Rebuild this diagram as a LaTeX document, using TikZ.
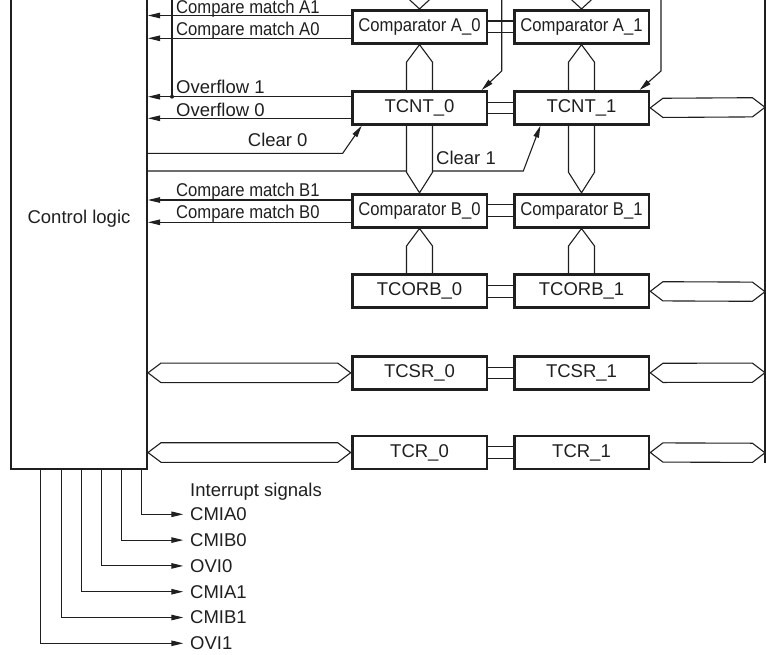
\documentclass[tikz,border=0pt]{standalone}
\usepackage{fontspec}
\setmainfont{Liberation Sans}
\usetikzlibrary{calc,arrows.meta}
\newcommand{\cnd}[1]{\scalebox{0.9}[1]{#1}}
\begin{document}
\begin{tikzpicture}[x=1pt,y=-1pt,
  txt/.style={font=\fontsize{18.5}{21}\selectfont, text=black!88},
  reg/.style={txt, draw=black!88, line width=2.8pt, minimum width=134.8pt, minimum height=32.9pt, inner sep=0pt, fill=white},
  lbl/.style={txt, inner sep=0pt},
  thin/.style={draw=black!88, line width=1.1pt},
  sig/.style={thin, -{Triangle[length=12pt,width=5.5pt]}},
  bus/.style={thin, fill=white, line join=miter}
]
\useasboundingbox (0,0) rectangle (766,654);
\clip (0,0) rectangle (766,654);

% control logic
\node[txt, draw=black!88, line width=2.2pt, minimum width=135.8pt, minimum height=499.8pt, inner sep=0pt] (ctrl) at (79,219) {Control logic};

% registers
\node[reg] (ca0) at (419.5,26.8) {\cnd{Comparator A\_0}};
\node[reg] (ca1) at (581.5,26.8) {\cnd{Comparator A\_1}};
\node[reg] (t0)  at (419.5,107.85) {TCNT\_0};
\node[reg] (t1)  at (581.5,107.85) {TCNT\_1};
\node[reg] (cb0) at (419.5,210.65) {\cnd{Comparator B\_0}};
\node[reg] (cb1) at (581.5,210.65) {\cnd{Comparator B\_1}};
\node[reg] (tb0) at (419.5,291.3) {TCORB\_0};
\node[reg] (tb1) at (581.5,291.3) {TCORB\_1};
\node[reg] (ts0) at (419.5,372.85) {TCSR\_0};
\node[reg] (ts1) at (581.5,372.85) {TCSR\_1};
\node[reg] (tr0) at (419.5,452.5) {TCR\_0};
\node[reg] (tr1) at (581.5,452.5) {TCR\_1};

% right edge line
\coordinate (rtop) at (765,-5);
\coordinate (rbot) at (765,463);
\draw[thin] (rtop) -- (rbot);

% signals to control logic
\coordinate (a1) at ($(ca0.west)+(0,-11.3)$);
\coordinate (a0) at ($(ca0.west)+(0,11.5)$);
\coordinate (o1) at ($(t0.west)+(0,-11.15)$);
\coordinate (o0) at ($(t0.west)+(0,10.45)$);
\coordinate (b1) at ($(cb0.west)+(0,-10.65)$);
\coordinate (b0) at ($(cb0.west)+(0,11.65)$);
\foreach \s in {a1,a0,o1,o0,b1,b0} \draw[sig] (\s) -- (\s -| ctrl.east);

% junction line
\coordinate (jtop) at (172,-5);
\coordinate (jn) at (172,96.7);
\draw[thin] (jtop) -- (jn);
\fill[black!88] (jn) circle (2pt);

% clear signals
\coordinate (c0b) at (342.7,153.3);
\coordinate (c1b) at (523.3,171);
\draw[sig] (ctrl.east |- c0b) -- (c0b) -- ($(t0.south west)+(11,0)$);
\draw[sig] (ctrl.east |- c1b) -- (c1b) -- ($(t1.south west)+(27.7,0)$);

% inputs from top
\coordinate (u0a) at (501.7,-5);
\coordinate (u0b) at (501.7,71);
\coordinate (u1a) at (661,-5);
\coordinate (u1b) at (661,71);
\draw[sig] (u0a) -- (u0b) -- ($(t0.north east)+(-6.6,0)$);
\draw[sig] (u1a) -- (u1b) -- ($(t1.north east)+(-10.7,0)$);

% vertical buses
\foreach \f/\t in {t0/ca0,t1/ca1,tb0/cb0,tb1/cb1}{
  \draw[bus] ([xshift=-13pt]\f.north) -- ([xshift=-13pt,yshift=-17.5pt]\t.south) -- (\t.south)
     -- ([xshift=13pt,yshift=-17.5pt]\t.south) -- ([xshift=13pt]\f.north);
}
\foreach \f/\t in {t0/cb0,t1/cb1}{
  \draw[bus] ([xshift=-13pt]\f.south) -- ([xshift=-13pt,yshift=20.5pt]\t.north) -- (\t.north)
     -- ([xshift=13pt,yshift=20.5pt]\t.north) -- ([xshift=13pt]\f.south);
}
\foreach \t in {ca0,ca1}{
  \draw[bus] ([xshift=-13pt,yshift=40pt]\t.north) -- ([xshift=-13pt,yshift=12pt]\t.north) -- (\t.north)
     -- ([xshift=13pt,yshift=12pt]\t.north) -- ([xshift=13pt,yshift=40pt]\t.north);
}

% redraw box borders over buses
\foreach \n in {ca0,ca1,t0,t1,cb0,cb1,tb0,tb1}{
  \draw[black!88, line width=2.8pt] ($(\n.south west)+(1.4pt,1.4pt)$) rectangle ($(\n.north east)+(-1.4pt,-1.4pt)$);
}

% double links between pairs
\foreach \l/\r in {ca0/ca1,t0/t1,cb0/cb1,tb0/tb1,ts0/ts1,tr0/tr1}{
  \draw[thin] ([yshift=5.8pt]\l.east) -- ([yshift=5.8pt]\r.west);
  \draw[thin] ([yshift=-5.8pt]\l.east) -- ([yshift=-5.8pt]\r.west);
}

% right bidirectional buses
\coordinate (rt1) at (765,107.3);
\coordinate (rtb1) at (765,291.7);
\coordinate (rts1) at (765,372.7);
\coordinate (rtr1) at (765,452.8);
\foreach \n/\e in {t1/rt1,tb1/rtb1,ts1/rts1,tr1/rtr1}{
  \draw[bus] (\n.east) -- ++(12.6,-9.6) -- ($(\e)+(-12.6,-9.6)$) -- (\e)
     -- ($(\e)+(-12.6,9.6)$) -- ($(\n.east)+(12.6,9.6)$) -- cycle;
}
% left bidirectional buses
\foreach \n in {ts0,tr0}{
  \draw[bus] (ctrl.east |- \n.west) -- ++(13,-9.8) -- ($(\n.west)+(-13,-9.8)$) -- (\n.west)
     -- ($(\n.west)+(-13,9.8)$) -- ($(ctrl.east |- \n.west)+(13,9.8)$) -- cycle;
}

% labels
\node[lbl, anchor=base west] (la1) at (176,13.4) {\cnd{Compare match A1}};
\node[lbl, anchor=base west] (la0) at (176,35) {\cnd{Compare match A0}};
\node[lbl, anchor=base west] (lo1) at (176,93.3) {Overflow 1};
\node[lbl, anchor=base west] (lo0) at (176,116) {Overflow 0};
\node[lbl, anchor=base west] (lc0) at (247.7,146.7) {Clear 0};
\node[lbl, anchor=base west] (lc1) at (436,164.5) {Clear 1};
\node[lbl, anchor=base west] (lb1) at (176,196) {\cnd{Compare match B1}};
\node[lbl, anchor=base west] (lb0) at (176,218) {\cnd{Compare match B0}};
\node[lbl, anchor=base west] (isig) at (190,496) {Interrupt signals};

% interrupt outputs
\node[lbl, anchor=west] (iCMIA0) at (190,514.3) {CMIA0};
\node[lbl, anchor=west] (iCMIB0) at (190,540.1) {CMIB0};
\node[lbl, anchor=west] (iOVI0)  at (190,565.9) {OVI0};
\node[lbl, anchor=west] (iCMIA1) at (190,591.7) {CMIA1};
\node[lbl, anchor=west] (iCMIB1) at (190,617.5) {CMIB1};
\node[lbl, anchor=west] (iOVI1)  at (190,643.3) {OVI1};
\foreach \dx/\n in {62.7/iCMIA0,42.7/iCMIB0,22.7/iOVI0,2.7/iCMIA1,-17.3/iCMIB1,-38.3/iOVI1}{
  \draw[sig] ([xshift=\dx pt]ctrl.south) |- ([xshift=-6.7pt]\n.west);
}
\end{tikzpicture}
\end{document}
